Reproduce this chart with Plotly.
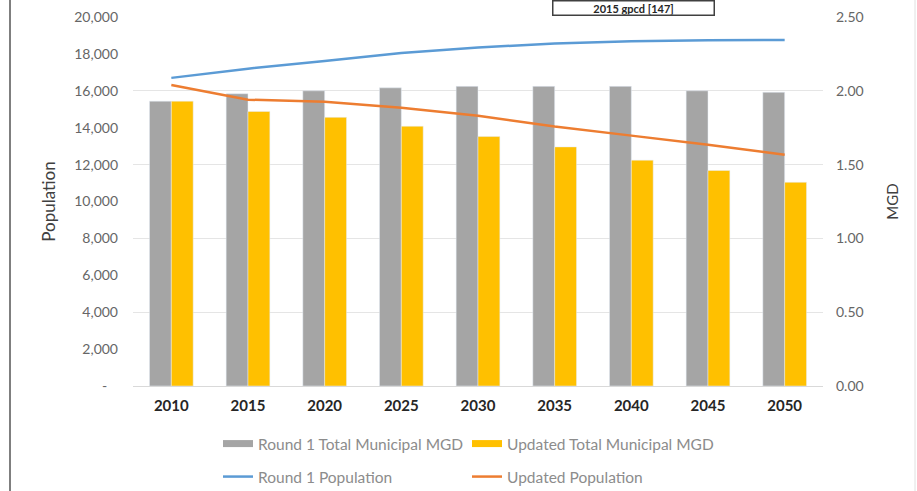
import plotly.graph_objects as go

years = ["2010", "2015", "2020", "2025", "2030", "2035", "2040", "2045", "2050"]
round1_mgd = [1.93, 1.98, 2.00, 2.02, 2.03, 2.03, 2.03, 2.00, 1.99]
updated_mgd = [1.93, 1.86, 1.82, 1.76, 1.69, 1.62, 1.53, 1.46, 1.38]
round1_pop = [16700, 17200, 17620, 18050, 18350, 18560, 18680, 18740, 18750]
updated_pop = [16320, 15520, 15400, 15080, 14650, 14060, 13570, 13080, 12540]

pop_ticks = [0, 2000, 4000, 6000, 8000, 10000, 12000, 14000, 16000, 18000, 20000]
pop_ticktext = ["-   ", "2,000", "4,000", "6,000", "8,000", "10,000", "12,000", "14,000",
                "16,000", "18,000", "20,000"]
mgd_ticks = [0, 0.5, 1.0, 1.5, 2.0, 2.5]
mgd_ticktext = ["0.00", "0.50", "1.00", "1.50", "2.00", "2.50"]

FONT = "Lato, Open Sans, sans-serif"
W, H = 917, 491
ML, MR, MT, MB = 133, 94, 17, 105
pw = W - ML - MR
ph = H - MT - MB

def px_x(px):
    return (px - ML) / pw

def px_y(py):
    return (H - MB - py) / ph

GRAY, YELLOW, BLUE, ORANGE = "#A5A5A5", "#FFC000", "#5B9BD5", "#ED7D31"

fig = go.Figure()
fig.add_trace(go.Bar(x=years, y=round1_mgd, name="Round 1 Total Municipal MGD",
                     marker_color=GRAY, yaxis="y", showlegend=False))
fig.add_trace(go.Bar(x=years, y=updated_mgd, name="Updated Total Municipal MGD",
                     marker_color=YELLOW, yaxis="y", showlegend=False))
fig.add_trace(go.Scatter(x=years, y=round1_pop, name="Round 1 Population", mode="lines",
                         line=dict(color=BLUE, width=2.5), yaxis="y2", legend="legend2"))
fig.add_trace(go.Scatter(x=years, y=updated_pop, name="Updated Population", mode="lines",
                         line=dict(color=ORANGE, width=2.5), yaxis="y2", legend="legend2"))
# legend keys for the bars (wide rectangles, as in the reference)
fig.add_trace(go.Scatter(x=[None], y=[None], name="Round 1 Total Municipal MGD", mode="lines",
                         line=dict(color=GRAY, width=7), yaxis="y", legend="legend"))
fig.add_trace(go.Scatter(x=[None], y=[None], name="Updated Total Municipal MGD", mode="lines",
                         line=dict(color=YELLOW, width=7), yaxis="y", legend="legend"))

legend_common = dict(orientation="h", xanchor="left", yanchor="middle",
                     entrywidth=204, entrywidthmode="pixels",
                     font=dict(size=15.5, color="#8C8C8C", family=FONT),
                     bgcolor="rgba(0,0,0,0)", traceorder="normal", itemwidth=30)

fig.update_layout(
    width=W, height=H,
    margin=dict(l=ML, r=MR, t=MT, b=MB, autoexpand=False),
    paper_bgcolor="white", plot_bgcolor="white",
    barmode="group", bargap=0.43, bargroupgap=0,
    font=dict(family=FONT, size=14, color="#595959"),
    xaxis=dict(type="category", showgrid=False, showline=True, linecolor="#D9D9D9",
               linewidth=1, ticks="", ticklabelstandoff=6,
               tickfont=dict(size=15, color="#262626", family=FONT, weight="bold")),
    yaxis=dict(side="right", range=[0, 2.5], tickvals=mgd_ticks, ticktext=mgd_ticktext,
               showgrid=True, gridcolor="#E5E5E5", zeroline=False, ticks="",
               ticklabelstandoff=12,
               tickfont=dict(size=14, color="#666666"),
               title=dict(text="MGD", font=dict(size=15, color="#404040"), standoff=24)),
    yaxis2=dict(overlaying="y", side="left", range=[0, 20000], tickvals=pop_ticks,
                ticktext=pop_ticktext, showgrid=False, zeroline=False, ticks="",
                ticklabelstandoff=14,
                tickfont=dict(size=14, color="#666666"),
                title=dict(text="Population", font=dict(size=17, color="#404040"), standoff=14)),
    legend=dict(x=px_x(218), y=px_y(444), **legend_common),
    legend2=dict(x=px_x(218), y=px_y(477), **legend_common),
    showlegend=True,
)

fig.add_annotation(text="2015 gpcd [147]", xref="paper", yref="paper",
                   x=px_x(633), y=px_y(16), xanchor="center", yanchor="bottom",
                   showarrow=False,
                   font=dict(size=11, color="#262626", family=FONT, weight="bold"),
                   bordercolor="#404040", borderwidth=1.5, borderpad=0, bgcolor="white",
                   width=160)

# outer frame edges
fig.add_shape(type="line", xref="paper", yref="paper",
              x0=px_x(10), x1=px_x(10), y0=px_y(H), y1=px_y(0),
              line=dict(color="#7F7F7F", width=2))
fig.add_shape(type="line", xref="paper", yref="paper",
              x0=px_x(915), x1=px_x(915), y0=px_y(H), y1=px_y(0),
              line=dict(color="#E0E0E0", width=1))

fig.write_html("out.html", config={"displayModeBar": False},
               post_script="document.body.style.margin='0';")
